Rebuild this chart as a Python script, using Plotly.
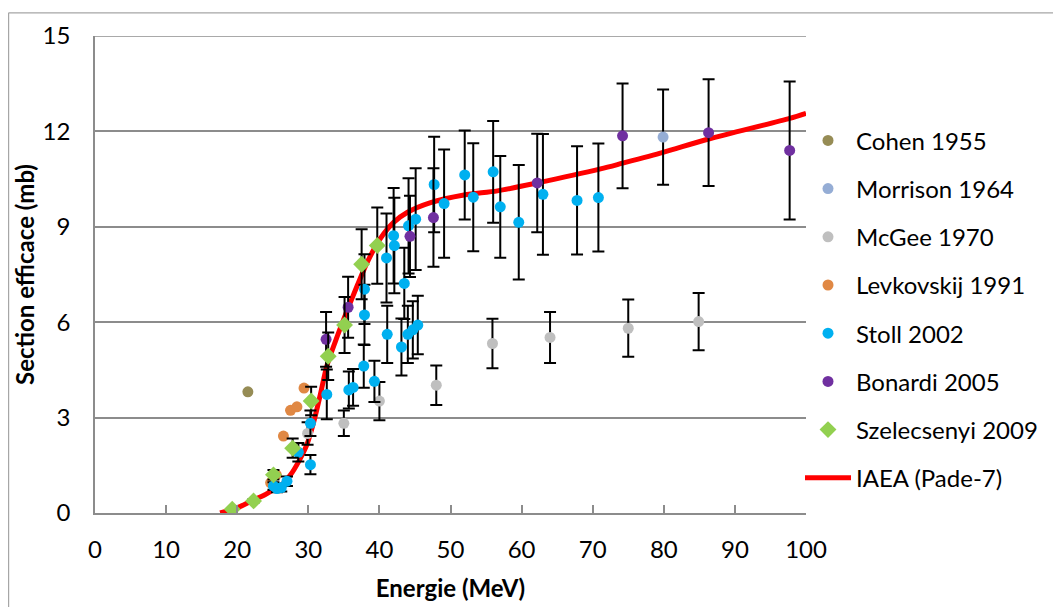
import plotly.graph_objects as go

# ---------------- data ----------------
cohen_e = [21.5]
cohen_s = [3.81]

morrison_e = [79.9]
morrison_s = [11.82]
morrison_err = [1.50]

mcgee_e = [29.9, 35.0, 40.0, 48.0, 55.9, 64.0, 75.0, 84.9]
mcgee_s = [2.50, 2.82, 3.52, 4.02, 5.33, 5.52, 5.81, 6.02]
mcgee_err = [0.35, 0.40, 0.60, 0.62, 0.78, 0.80, 0.90, 0.90]

lev_e = [24.7, 25.5, 26.5, 27.5, 28.4, 29.4]
lev_s = [0.95, 1.20, 2.42, 3.23, 3.34, 3.93]

stoll_e = [25.1, 25.6, 26.2, 27.0, 28.6, 30.3, 30.3, 32.6, 35.7, 36.3, 37.8, 37.9, 37.9,
           39.3, 41.1, 41.0, 42.1, 42.0, 43.1, 43.5, 44.0, 44.7, 45.4, 44.1, 45.1, 47.7,
           49.1, 52.0, 53.2, 56.0, 57.0, 59.6, 63.0, 67.8, 70.8]
stoll_s = [0.85, 0.77, 0.80, 1.00, 1.91, 1.52, 2.82, 3.73, 3.87, 3.95, 4.62, 6.23, 7.04,
           4.14, 5.62, 8.02, 8.41, 8.72, 5.22, 7.22, 5.62, 5.76, 5.91, 9.03, 9.24, 10.33,
           9.73, 10.63, 9.93, 10.73, 9.63, 9.14, 10.02, 9.83, 9.92]
stoll_err = [0.12, 0.12, 0.12, 0.15, 0.29, 0.30, 0.40, 0.78, 0.58, 0.58, 0.68, 0.95, 1.10,
             0.65, 0.90, 1.40, 1.50, 1.50, 0.90, 1.12, 0.90, 0.90, 0.92, 1.50, 1.60, 1.50,
             1.70, 1.40, 1.70, 1.60, 1.60, 1.80, 1.90, 1.70, 1.70]

bon_e = [32.5, 35.6, 44.3, 47.6, 62.2, 74.2, 86.3, 97.7]
bon_s = [5.46, 6.47, 8.70, 9.29, 10.38, 11.86, 11.96, 11.40]
bon_err = [0.86, 0.96, 1.28, 1.55, 1.55, 1.65, 1.68, 2.17]

sz_e = [19.3, 22.3, 25.1, 27.8, 30.4, 32.8, 35.1, 37.5, 39.7]
sz_s = [0.12, 0.38, 1.20, 2.04, 3.52, 4.93, 5.91, 7.82, 8.41]
sz_err = [0.02, 0.05, 0.15, 0.30, 0.45, 0.75, 0.88, 1.10, 1.20]

iaea_e = [17.6, 20.4, 22.3, 23.7, 25.0, 26.1, 27.5, 28.6, 29.8, 30.75, 31.7, 32.6, 33.8,
          35.4, 36.9, 38.3, 40.1, 42.0, 43.9, 47.2, 51.9, 56.6, 62.2, 71.1, 74.2, 79.9,
          86.3, 97.7, 100.0]
iaea_s = [0.0, 0.20, 0.41, 0.55, 0.72, 0.85, 1.20, 1.60, 2.15, 2.85, 3.73, 4.62, 5.39,
          6.33, 7.16, 7.89, 8.62, 9.14, 9.45, 9.76, 10.00, 10.13, 10.38, 10.82, 11.00, 11.34,
          11.76, 12.41, 12.57]

x_ticks = [0, 10, 20, 30, 40, 50, 60, 70, 80, 90, 100]
y_ticks = [0, 3, 6, 9, 12, 15]

FONT = "Lato"
GRID = "#8c8c8c"

fig = go.Figure()

def err(vals):
    return dict(type="data", array=vals, visible=True, color="black",
                thickness=2, width=6)

# IAEA curve first so the markers are drawn above it
fig.add_trace(go.Scatter(x=iaea_e, y=iaea_s, mode="lines", name="IAEA (Pade-7)",
                         line=dict(color="#ff0000", width=5, shape="spline", smoothing=0.8),
                         legendrank=8, legendgroup="g8"))

fig.add_trace(go.Scatter(x=cohen_e, y=cohen_s, mode="markers", name="Cohen 1955",
                         marker=dict(color="#968c55", size=11),
                         legendrank=1, legendgroup="g1"))
fig.add_trace(go.Scatter(x=morrison_e, y=morrison_s, mode="markers", name="Morrison 1964",
                         marker=dict(color="#95add5", size=11), error_y=err(morrison_err),
                         legendrank=2, legendgroup="g2"))
fig.add_trace(go.Scatter(x=mcgee_e, y=mcgee_s, mode="markers", name="McGee 1970",
                         marker=dict(color="#bfbfbf", size=11), error_y=err(mcgee_err),
                         legendrank=3, legendgroup="g3"))
fig.add_trace(go.Scatter(x=lev_e, y=lev_s, mode="markers", name="Levkovskij 1991",
                         marker=dict(color="#e08844", size=11),
                         legendrank=4, legendgroup="g4"))
fig.add_trace(go.Scatter(x=stoll_e, y=stoll_s, mode="markers", name="Stoll 2002",
                         marker=dict(color="#00b0f0", size=11), error_y=err(stoll_err),
                         legendrank=5, legendgroup="g5"))
fig.add_trace(go.Scatter(x=bon_e, y=bon_s, mode="markers", name="Bonardi 2005",
                         marker=dict(color="#7030a0", size=11), error_y=err(bon_err),
                         legendrank=6, legendgroup="g6"))
fig.add_trace(go.Scatter(x=sz_e, y=sz_s, mode="markers", name="Szelecsenyi 2009",
                         marker=dict(color="#92d050", size=13, symbol="diamond"),
                         error_y=err(sz_err),
                         legendrank=7, legendgroup="g7"))

# the page body adds an 8px offset, so the figure is laid out 8px up/left
OFF = 8
W, H = 1061, 607
L, R, T, B = 95 - OFF, 806 - OFF, 32 - OFF, 513 - OFF
pw, ph = R - L, B - T

def px(xp):
    return (xp - OFF - L) / pw

def py(yp):
    return (B - (yp - OFF)) / ph

fig.update_layout(
    width=W, height=H,
    margin=dict(l=L, r=W - R, t=T, b=H - B, pad=0),
    paper_bgcolor="white", plot_bgcolor="white",
    font=dict(family=FONT, color="black"),
    showlegend=True,
    legend=dict(x=px(800), xanchor="left", y=py(115), yanchor="top",
                font=dict(family=FONT, size=24, color="black"),
                tracegroupgap=14, itemwidth=46, bgcolor="rgba(0,0,0,0)",
                borderwidth=0),
    xaxis=dict(range=[0, 100], tickvals=x_ticks, ticktext=[str(v) for v in x_ticks],
               ticks="inside", ticklen=8, tickwidth=1.5, tickcolor=GRID,
               showline=True, linecolor=GRID, linewidth=1.5, showgrid=False,
               zeroline=False, tickfont=dict(family=FONT, size=24, color="black"),
               ticklabelstandoff=14,
               title=dict(text="<b>Energie (MeV)</b>", standoff=19,
                          font=dict(family=FONT, size=24, color="black"))),
    yaxis=dict(range=[0, 15], tickvals=y_ticks, ticktext=[str(v) for v in y_ticks],
               ticks="", showline=True, linecolor=GRID, linewidth=1.5,
               showgrid=True, gridcolor=GRID, gridwidth=1.5, zeroline=False,
               tickfont=dict(family=FONT, size=24, color="black"),
               ticklabelstandoff=18,
               title=dict(text="<b>Section efficace (mb)</b>", standoff=1,
                          font=dict(family=FONT, size=24, color="black"))),
    shapes=[
        # gridline at the top of the value axis
        dict(type="line", xref="paper", yref="y", x0=0, x1=1, y0=15, y1=15,
             line=dict(color=GRID, width=1.5), layer="below"),
        # outer chart border (top and left edges)
        dict(type="line", xref="paper", yref="paper", x0=px(8.6), x1=px(W + 20),
             y0=py(8.6), y1=py(8.6), line=dict(color="#a6a6a6", width=1.2)),
        dict(type="line", xref="paper", yref="paper", x0=px(8.6), x1=px(8.6),
             y0=py(8.6), y1=py(H + 20), line=dict(color="#a6a6a6", width=1.2)),
    ],
)

fig.write_html("out.html")
